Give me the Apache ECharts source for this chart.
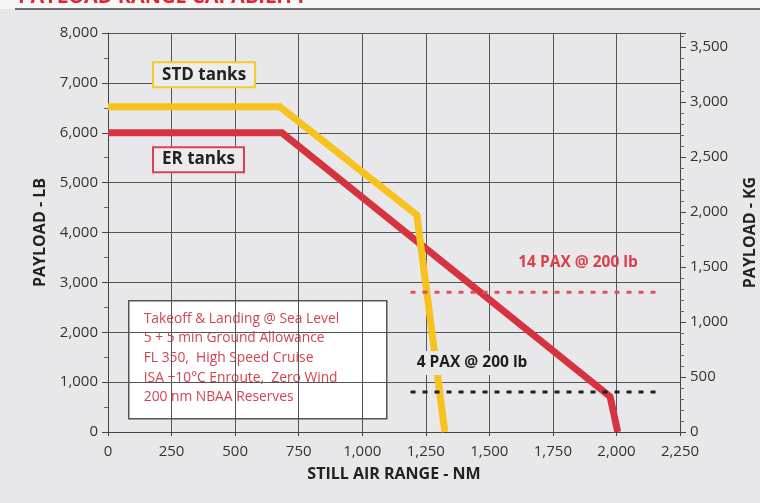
<!DOCTYPE html>
<html>
<head>
<meta charset="utf-8">
<style>
  html, body { margin: 0; padding: 0; background: #e8e8ea; }
  #chart { width: 760px; height: 503px; }
</style>
<script src="https://cdn.jsdelivr.net/npm/echarts@6/dist/echarts.min.js"></script>
</head>
<body>
<div id="chart"></div>
<script>
// Werte
const xTicks = [0, 250, 500, 750, 1000, 1250, 1500, 1750, 2000, 2250];
const stdRange = [0, 676, 1215, 1325];
const stdPayload = [6520, 6520, 4350, 0];
const erRange = [0, 684, 1975, 2005];
const erPayload = [6000, 6000, 710, 0];
const paxRange = [1190, 2175];
const paxPayload14 = 2800;
const paxPayload4 = 800;
const notes = [
  'Takeoff & Landing @ Sea Level',
  '5 + 5 min Ground Allowance',
  'FL 350,  High Speed Cruise',
  'ISA +10°C Enroute,  Zero Wind',
  '200 nm NBAA Reserves'
];
const LB_PER_KG = 2.20462;

const FONT = '"Open Sans", "Noto Sans", sans-serif';
const fmt = v => v.toLocaleString('en-US');
const pairs = (xs, ys) => xs.map((x, i) => [x, ys[i]]);

const chart = echarts.init(document.getElementById('chart'), null, {renderer: 'canvas'});

function tag(coord, text, color, border, bg, size) {
  return {
    coord: coord,
    symbol: 'rect',
    symbolSize: 1,
    itemStyle: {color: 'rgba(0,0,0,0)'},
    label: {
      show: true, position: 'inside', formatter: text,
      color: color, fontFamily: FONT, fontWeight: 'bold', fontSize: size,
      backgroundColor: bg, borderColor: border, borderWidth: border ? 2 : 0,
      padding: border ? [3, 8] : [4, 3]
    }
  };
}

const axisName = {color: '#222', fontWeight: 'bold', fontSize: 16};

chart.setOption({
  backgroundColor: '#e8e8ea',
  animation: false,
  textStyle: {fontFamily: FONT},
  graphic: [
    {type: 'rect', shape: {x: 0, y: 0, width: 760, height: 9}, style: {fill: '#f7f7f7'}, z: -1},
    {type: 'text', x: 18, y: -13, style: {text: 'PAYLOAD RANGE CAPABILITY', fill: '#e1242e', font: 'bold 20px ' + FONT}},
    {type: 'line', shape: {x1: 15, y1: 9, x2: 760, y2: 9}, style: {stroke: '#444', lineWidth: 1.5}},
    {
      type: 'group', left: 128, top: 300, z: 20,
      children: [
        {type: 'rect', shape: {x: 0, y: 0, width: 258, height: 118}, style: {fill: '#fff', stroke: '#555', lineWidth: 1.5}},
        {type: 'text', x: 15, y: 8, style: {text: notes.join('\n'), fill: '#d4434f', font: '13.8px ' + FONT, lineHeight: 19.7}}
      ]
    }
  ],
  grid: {left: 108, right: 80, top: 33, bottom: 71, outerBoundsMode: 'none'},
  xAxis: {
    type: 'value', min: 0, max: 2250, interval: 250,
    name: 'STILL AIR RANGE - NM', nameLocation: 'middle', nameGap: 34,
    nameTextStyle: axisName,
    axisLine: {show: true, lineStyle: {color: '#444'}},
    axisTick: {show: true, length: 4, lineStyle: {color: '#444'}},
    axisLabel: {color: '#333', fontSize: 15, margin: 12, formatter: v => xTicks.includes(v) ? fmt(v) : ''},
    splitLine: {show: true, lineStyle: {color: '#555', width: 1}}
  },
  yAxis: [
    {
      type: 'value', min: 0, max: 8000, interval: 1000,
      name: 'PAYLOAD - LB', nameLocation: 'middle', nameGap: 60,
      nameTextStyle: axisName,
      axisLine: {show: true, lineStyle: {color: '#444'}},
      axisTick: {show: true, length: 6, lineStyle: {color: '#444'}},
      minorTick: {show: true, splitNumber: 2, length: 4, lineStyle: {color: '#666'}},
      axisLabel: {color: '#333', fontSize: 15, margin: 10, formatter: fmt},
      splitLine: {show: true, lineStyle: {color: '#555', width: 1}}
    },
    {
      type: 'value', min: 0, max: 8000 / LB_PER_KG, interval: 500, position: 'right',
      name: 'PAYLOAD - KG', nameLocation: 'middle', nameGap: 62,
      nameTextStyle: axisName,
      axisLine: {show: true, lineStyle: {color: '#444'}},
      axisTick: {show: true, length: 6, lineStyle: {color: '#444'}},
      minorTick: {show: true, splitNumber: 5, length: 4, lineStyle: {color: '#666'}},
      axisLabel: {color: '#333', fontSize: 15, margin: 10, showMaxLabel: false, formatter: fmt},
      splitLine: {show: false}
    }
  ],
  series: [
    {
      name: 'ER tanks', type: 'line', data: pairs(erRange, erPayload),
      symbol: 'none', lineStyle: {color: '#d5333f', width: 7, join: 'miter'}, z: 3
    },
    {
      name: 'STD tanks', type: 'line', data: pairs(stdRange, stdPayload),
      symbol: 'none', lineStyle: {color: '#f6c21d', width: 7, join: 'miter'}, z: 4
    },
    {
      name: '14 PAX', type: 'line', data: pairs(paxRange, [paxPayload14, paxPayload14]),
      symbol: 'none', lineStyle: {color: '#e0505c', width: 3, type: [5, 7]}, z: 5
    },
    {
      name: '4 PAX', type: 'line', data: pairs(paxRange, [paxPayload4, paxPayload4]),
      symbol: 'none', lineStyle: {color: '#1e1e1e', width: 3, type: [5, 7]}, z: 5
    },
    {
      name: 'labels', type: 'line', data: [], z: 10,
      markPoint: {
        silent: true,
        data: [
          tag([378, 7164], 'STD tanks', '#222', '#f5c92a', '#ececec', 17),
          tag([356, 5461], 'ER tanks', '#222', '#d8434f', '#ececec', 17),
          tag([1849, 3390], '14 PAX @ 200 lb', '#d8404c', null, 'rgba(0,0,0,0)', 15.5),
          tag([1432, 1385], '4 PAX @ 200 lb', '#1e1e1e', null, '#e8e8ea', 15.5)
        ]
      }
    }
  ]
});
</script>
</body>
</html>
